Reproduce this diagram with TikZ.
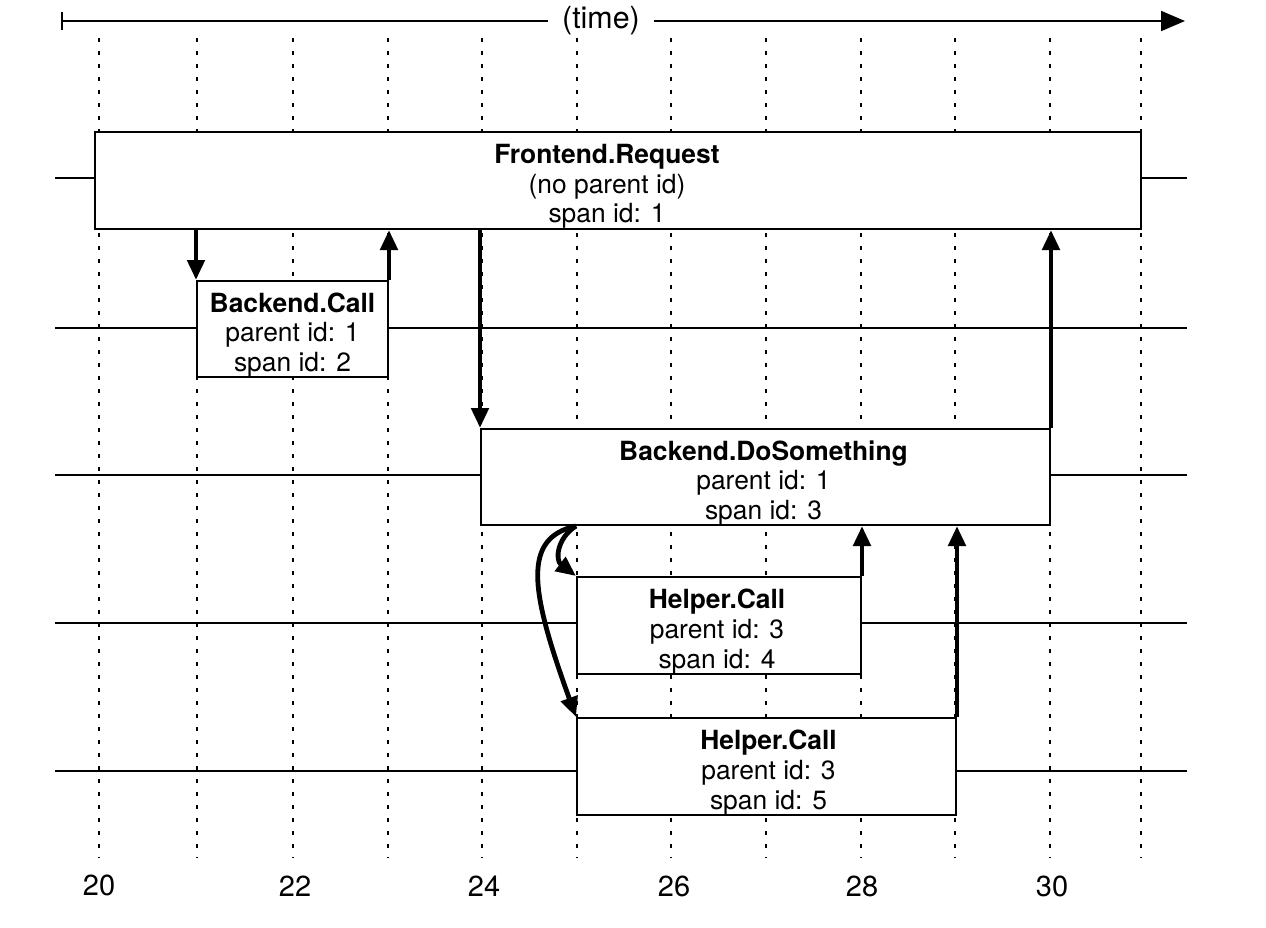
\documentclass[tikz,border=0pt]{standalone}
\usepackage{fontspec}
\setmainfont{TeX Gyre Heros}
\usetikzlibrary{arrows.meta}
\begin{document}
\begin{tikzpicture}[x=0.5pt,y=-0.5pt,
  span/.style={draw,line width=1pt,fill=white,inner sep=0pt},
  spantext/.style={align=center,inner sep=0pt,yshift=-3pt,
    font=\fontsize{13.2}{14.8}\selectfont},
  lane/.style={line width=1pt},
  gridline/.style={line width=1.4pt,dash pattern=on 2.2pt off 4.3pt},
  call/.style={line width=2.4pt,-{Triangle[length=10pt,width=8.5pt]}},
  axis/.style={line width=1pt},
  lbl/.style={font=\fontsize{14.5}{17}\selectfont}]
\useasboundingbox (0,0) rectangle (1266,928);
% time grid
\foreach \x/\n in {99/20,197/21,293/22,388/23,482/24,577/25,671/26,766/27,861/28,955/29,1050/30,1141/31}{
  \coordinate (t\n) at (\x,38);
  \coordinate (b\n) at (\x,858);
  \draw[gridline] (t\n) -- (b\n);
}
% lanes
\foreach \y in {178,328,475,623,771}{
  \draw[lane] (55,\y) -- (1187,\y);
}
% time axis
\node[font=\fontsize{15.2}{18}\selectfont,inner xsep=7pt,inner ysep=2pt] (time) at (601,21) {(time)};
\coordinate (ts) at (62,21);
\coordinate (te) at (1185,21);
\draw[axis] (62,12) -- (62,30);
\draw[axis] (ts) -- (time.west);
\draw[axis,-{Triangle[length=12pt,width=10pt]}] (time.east) -- (te);
% spans
\node[span,minimum width=523pt,minimum height=48.5pt,
  label={[spantext,xshift=-5.5pt]center:\textbf{Frontend.Request}\\(no parent id)\\span id: 1}]
  (fr) at (618,180.5) {};
\node[span,minimum width=95.5pt,minimum height=48pt,
  label={[spantext]center:\textbf{Backend.Call}\\parent id: 1\\span id: 2}]
  (bc) at (292.5,329) {};
\node[span,minimum width=284.5pt,minimum height=48pt,
  label={[spantext,xshift=-1pt]center:\textbf{Backend.DoSomething}\\parent id: 1\\span id: 3}]
  (ds) at (765.5,477) {};
\node[span,minimum width=142pt,minimum height=48.5pt,
  label={[spantext,xshift=-1pt]center:\textbf{Helper.Call}\\parent id: 3\\span id: 4}]
  (h4) at (719,625.5) {};
\node[span,minimum width=189.5pt,minimum height=48.5pt,
  label={[spantext,xshift=1pt]center:\textbf{Helper.Call}\\parent id: 3\\span id: 5}]
  (h5) at (766.5,766.5) {};
% calls
\draw[call] (fr.south -| bc.west) -- (bc.north west);
\draw[call] (bc.north east) -- (fr.south -| bc.east);
\draw[call] (fr.south -| ds.west) -- (ds.north west);
\draw[call] (ds.north east) -- (fr.south -| ds.east);
\coordinate (ds25) at (ds.south -| h4.west);
\draw[call] (ds25) .. controls (557,538) and (555,560) .. (h4.north west);
\draw[call] (ds25) .. controls (522,538) and (530,590) .. (h5.north west);
\draw[call] (h4.north east) -- (ds.south -| h4.east);
\draw[call] (h5.north east) -- (ds.south -| h5.east);
% labels
\node[lbl] (n20) at (99,885) {20};
\node[lbl] (n22) at (295,886) {22};
\node[lbl] (n24) at (484,886) {24};
\node[lbl] (n26) at (674,886) {26};
\node[lbl] (n28) at (862,886) {28};
\node[lbl] (n30) at (1052,886) {30};
\end{tikzpicture}
\end{document}
